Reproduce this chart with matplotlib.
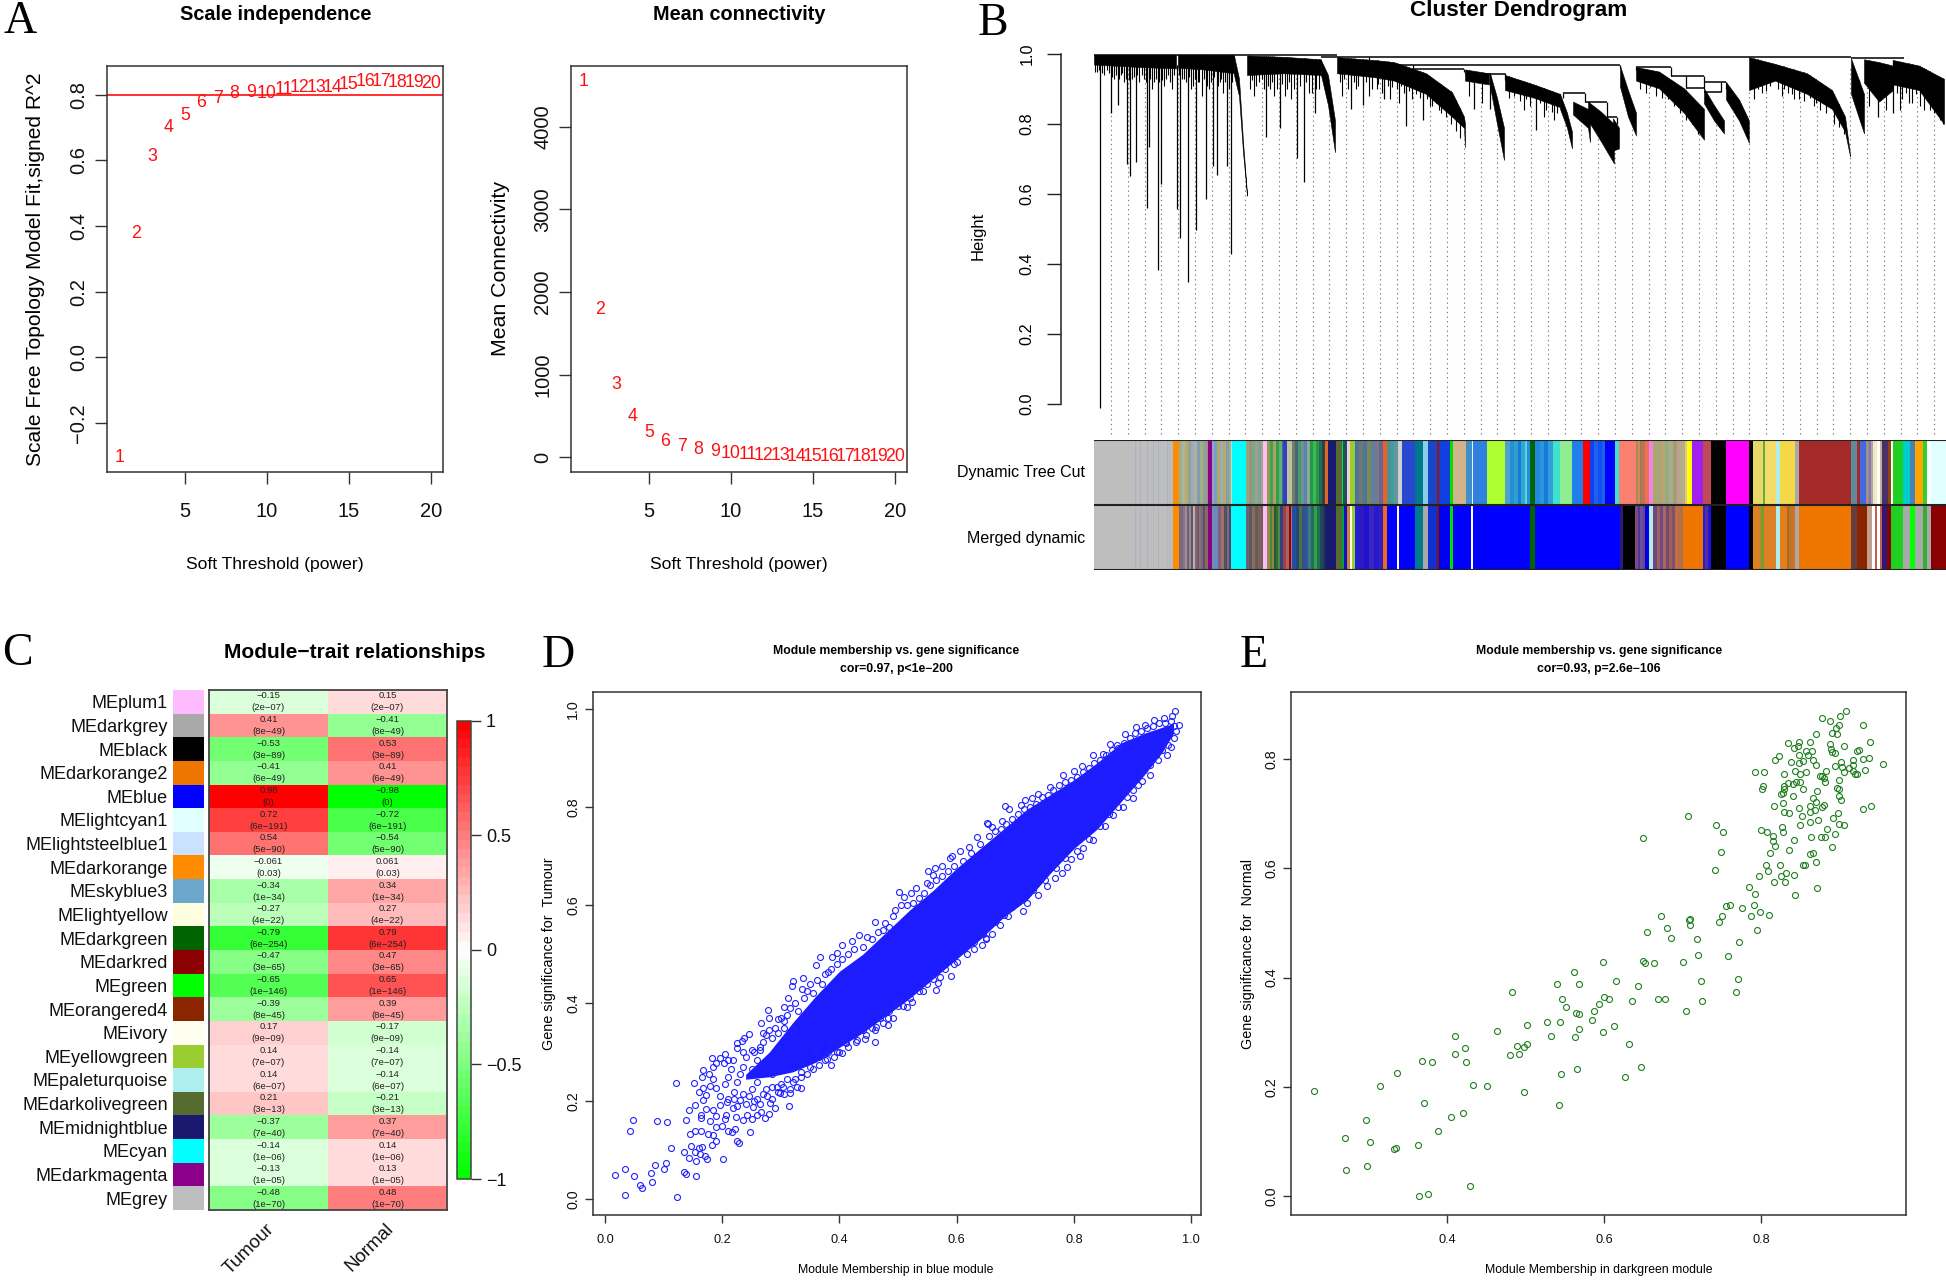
import matplotlib
matplotlib.use("Agg")
import matplotlib.pyplot as plt
from matplotlib.colors import LinearSegmentedColormap
import numpy as np

W, H = 1946, 1281
plt.rcParams['font.family'] = ['Liberation Sans', 'DejaVu Sans']
SERIF = ['Liberation Serif', 'DejaVu Serif']
DARK = '#333333'

# panel A
POWERS = list(range(1, 21))
SCALE_FIT = [-0.306, 0.378, 0.611, 0.701, 0.736, 0.775, 0.789, 0.805, 0.806, 0.803,
             0.816, 0.823, 0.821, 0.823, 0.830, 0.839, 0.841, 0.836, 0.838, 0.833]
MEAN_K = [4549, 1785, 879, 487, 296, 191, 128, 87, 64, 41,
          27, 18, 14, 9, 9, 5, 5, 4, 4, 3]

# panel B, x axis is leaf rank along the tree
BRANCH_RANKS = [
    [0, 46, 82], [84, 110, 140], [140, 145, 149, 153], [153, 190, 227], [227, 234, 241],
    [243, 280, 300, 332, 358, 370, 371], [371, 395], [396, 403, 410], [411, 440, 466],
    [466, 473, 478], [479, 494, 496], [494, 507, 520], [519, 525], [526, 534, 542],
    [542, 565, 590, 610], [610, 620, 630], [632, 645, 655],
    [655, 681, 713, 738, 751, 756], [757, 770], [770, 785, 799], [799, 825, 850],
]
BRANCH_TOPS = [
    [0.998, 0.998, 0.998], [0.998, 0.998, 0.997], [0.996, 0.93, 0.75, 0.60], [0.996, 0.992, 0.985],
    [0.983, 0.94, 0.81], [0.991, 0.983, 0.977, 0.945, 0.891, 0.821, 0.800], [0.956, 0.945],
    [0.945, 0.875, 0.789], [0.94, 0.913, 0.886], [0.886, 0.832, 0.778], [0.864, 0.843, 0.80],
    [0.864, 0.835, 0.80], [0.816, 0.789], [0.967, 0.897, 0.832], [0.963, 0.95, 0.902, 0.843],
    [0.902, 0.854, 0.81], [0.92, 0.87, 0.81], [0.991, 0.972, 0.945, 0.897, 0.821, 0.714],
    [0.988, 0.886], [0.985, 0.977, 0.967], [0.983, 0.967, 0.929],
]
BRANCH_BOTTOMS = [
    [0.970, 0.963, 0.959], [0.961, 0.956, 0.945], [0.94, 0.88, 0.72, 0.595], [0.94, 0.945, 0.94],
    [0.94, 0.854, 0.719], [0.945, 0.934, 0.924, 0.886, 0.821, 0.789, 0.733], [0.924, 0.913],
    [0.907, 0.80, 0.697], [0.897, 0.875, 0.848], [0.843, 0.789, 0.73], [0.827, 0.789, 0.748],
    [0.81, 0.75, 0.687], [0.724, 0.73], [0.907, 0.821, 0.767], [0.924, 0.902, 0.832, 0.755],
    [0.859, 0.81, 0.773], [0.87, 0.81, 0.746], [0.897, 0.924, 0.886, 0.843, 0.778, 0.708],
    [0.886, 0.773], [0.918, 0.864, 0.897], [0.913, 0.897, 0.80],
]
SPIKE_RANKS = [6.3, 17, 24, 33, 36, 42, 53, 55, 63.5, 67, 83, 86, 94, 102, 112, 119, 122.5, 133, 137,
               172, 186, 203, 210, 221, 257, 269, 290, 312, 329, 380, 396, 442, 765, 784, 799]
SPIKE_LOWS = [-0.013, 0.832, 0.854, 0.684, 0.651, 0.69, 0.56, 0.735, 0.382, 0.628, 0.558, 0.474, 0.348,
              0.498, 0.584, 0.681, 0.654, 0.681, 0.428, 0.762, 0.789, 0.703, 0.633, 0.832, 0.843, 0.854,
              0.87, 0.794, 0.81, 0.843, 0.843, 0.784, 0.84, 0.82, 0.83]
FRINGE_LEFT_RANKS = [1, 3, 5, 8, 10, 13, 15, 18, 20, 22, 25, 27, 28, 30, 32, 35, 38, 40, 43, 45, 48, 50, 52, 56, 58,
                     60, 62, 65, 68, 70, 72, 74, 76, 78, 80, 85, 88, 90, 92, 95, 97, 99, 101, 104, 105, 108, 110,
                     113, 115, 117, 120, 124, 126, 127, 129, 131, 135, 138]
FRINGE_LEFT_LOWS = [0.95, 0.95, 0.955, 0.945, 0.94, 0.955, 0.945, 0.935, 0.93, 0.94, 0.93, 0.94, 0.945, 0.92, 0.93,
                    0.925, 0.93, 0.935, 0.94, 0.92, 0.94, 0.93, 0.92, 0.93, 0.90, 0.92, 0.93, 0.92, 0.925, 0.91,
                    0.93, 0.94, 0.92, 0.90, 0.94, 0.94, 0.93, 0.93, 0.92, 0.935, 0.90, 0.91, 0.93, 0.92, 0.92,
                    0.88, 0.93, 0.91, 0.90, 0.92, 0.935, 0.91, 0.92, 0.93, 0.89, 0.92, 0.90, 0.92]
FRINGE_MID_RANKS = [156, 158, 160, 162, 165, 168, 170, 174, 176, 178, 180, 183, 188, 191, 193, 195, 197, 200, 206,
                    212, 215, 218, 222, 225, 246, 248, 250, 254, 260, 262, 264, 272, 275, 278, 283, 284, 288, 294,
                    296, 298, 303, 305, 307, 310, 315, 318, 322, 326, 333, 336, 338, 342, 345, 347, 352, 357, 362, 366]
FRINGE_MID_LOWS = [0.90, 0.925, 0.88, 0.91, 0.92, 0.93, 0.90, 0.91, 0.90, 0.92, 0.88, 0.90, 0.915, 0.88, 0.90, 0.92,
                   0.87, 0.90, 0.91, 0.92, 0.89, 0.89, 0.90, 0.90, 0.92, 0.88, 0.93, 0.90, 0.92, 0.90, 0.91, 0.92,
                   0.88, 0.90, 0.90, 0.915, 0.89, 0.91, 0.87, 0.905, 0.90, 0.86, 0.91, 0.89, 0.895, 0.87, 0.885,
                   0.875, 0.87, 0.85, 0.85, 0.86, 0.84, 0.83, 0.82, 0.80, 0.78, 0.76]
FRINGE_RIGHT_RANKS = [375, 388, 415, 420, 426, 430, 432, 436, 446, 450, 452, 458, 460, 463, 546, 552, 556, 562, 568,
                      574, 580, 586, 592, 598, 604, 660, 664, 668, 672, 676, 684, 688, 690, 694, 698, 700, 705, 710,
                      716, 720, 722, 726, 732, 740, 745, 750, 775, 792, 803, 806, 808, 812, 815, 818, 822, 826, 830,
                      832, 836, 840, 842, 846, 849]
FRINGE_RIGHT_LOWS = [0.88, 0.86, 0.875, 0.88, 0.865, 0.84, 0.87, 0.85, 0.86, 0.82, 0.84, 0.835, 0.81, 0.83, 0.90, 0.89,
                     0.905, 0.88, 0.875, 0.87, 0.85, 0.83, 0.81, 0.80, 0.77, 0.87, 0.90, 0.89, 0.895, 0.91, 0.90, 0.88,
                     0.90, 0.89, 0.885, 0.87, 0.87, 0.865, 0.875, 0.85, 0.86, 0.84, 0.83, 0.80, 0.79, 0.77, 0.85, 0.84,
                     0.89, 0.84, 0.87, 0.89, 0.86, 0.86, 0.885, 0.85, 0.84, 0.875, 0.84, 0.83, 0.86, 0.81, 0.80]
LINK_LEFTS = [0, 227, 656, 757, 275, 319, 371, 469, 491, 513, 542, 577, 610, 592, 610]
LINK_RIGHTS = [243, 656, 757, 810, 526, 370, 411, 491, 513, 523, 577, 610, 632, 610, 627]
LINK_HEIGHTS = [0.997, 0.991, 0.991, 0.989, 0.970, 0.958, 0.942, 0.888, 0.864, 0.819,
                0.963, 0.938, 0.921, 0.902, 0.891]
DROP_RANKS = [275, 526, 319, 370, 411, 469, 491, 513, 523, 577, 610, 632, 592, 627, 542]
DROP_TOPS = [0.991, 0.970, 0.970, 0.958, 0.945, 0.888, 0.888, 0.864, 0.819, 0.963, 0.938, 0.921, 0.938, 0.921, 0.963]
DROP_BOTTOMS = [0.970, 0.96, 0.958, 0.95, 0.925, 0.875, 0.864, 0.82, 0.80, 0.938, 0.90, 0.90, 0.902, 0.891, 0.955]

TREE_CUT_ENDS = [41, 42, 46, 47, 53, 54, 59, 60, 64, 65, 73, 74, 79, 85,
                 88, 91, 94, 97, 100, 103, 106, 109, 112, 114, 118,
                 120, 123, 126, 129, 132, 135, 137, 138, 152,
                 155, 158, 161, 164, 167, 169, 173,
                 176, 179, 182, 185, 188, 189, 193, 198,
                 201, 204, 207, 210, 213, 216, 219, 222, 225, 228, 231, 234, 242, 248, 249, 253, 256, 261,
                 265, 269, 273, 277, 281, 285, 289, 293, 297, 300, 304, 308, 321, 329, 334, 343, 345, 356, 359,
                 372, 378, 379, 393, 411, 416,
                 420, 424, 427, 431, 433, 436, 441, 446, 450, 454, 459, 466, 478, 489, 496,
                 500, 504, 508, 511, 521, 525, 542, 544, 546, 548, 551, 555, 559,
                 563, 567, 571, 575, 579, 583, 587, 591, 593, 598, 609, 617, 632, 655, 659,
                 669, 671, 682, 686, 701, 705, 757, 763, 766, 772, 775, 777, 779, 783, 786, 788,
                 794, 797, 799, 809, 816, 821, 829, 833, 837, 852]
TREE_CUT_COLORS = ['#bebebe', '#aab4c4', '#bebebe', '#aab4c4', '#bebebe', '#aab4c4', '#bebebe', '#aab4c4',
                   '#bebebe', '#aab4c4', '#bebebe', '#aab4c4', '#b8bcc0', '#ff8c00',
                   '#9ab08a', '#a8b8a0', '#c0a868', '#8aa890', '#9fa8c0', '#b0b0a0', '#7f9fb0', '#a0b080', '#90a0a8', '#a09080', '#8b008b',
                   '#a0a0c0', '#6fa0d0', '#b0a860', '#8fb0c0', '#c0a860', '#80a0b0', '#a0b080', '#b0e0e0', '#00ffff',
                   '#90a880', '#a09080', '#70b080', '#a0a090', '#80a0a0', '#a0a880', '#ffbbff',
                   '#90a040', '#40a060', '#b0a060', '#30a050', '#60b070', '#407090', '#3040c0', '#c0c0a0',
                   '#708060', '#506080', '#40a060', '#7090a0', '#6080b0', '#80b090', '#309050', '#30c050', '#309050', '#207050', '#304050',
                   '#e06820', '#191970', '#556b2f', '#00e050', '#205060', '#f0d0d0', '#9acd32',
                   '#5070a0', '#707870', '#4878a0', '#808850', '#5880a8', '#807880', '#6068a0', '#f06020',
                   '#509090', '#40a0a0', '#6098a0', '#d0d0d0', '#2848d0', '#007a8a', '#87ceeb', '#1848c8', '#a01010', '#1040e0', '#00e000',
                   '#d2b48c', '#4090c8', '#e8f4ff', '#3080e0', '#adff2f', '#50a0d0',
                   '#2090d8', '#30a0c8', '#1878e0', '#30a8d0', '#60d0e0', '#2090e0', '#006400',
                   '#2088e0', '#2898d8', '#1878e0', '#30a0d8', '#40e0d0', '#90ee90', '#1e80e8', '#ff0000',
                   '#1040f0', '#2060f0', '#1050f0', '#2060e8', '#0000ff', '#40e0d0', '#fa8072',
                   '#a09050', '#e08070', '#a08040', '#c07060', '#f07050', '#ee82ee',
                   '#b0a860', '#a0a880', '#c0a070', '#90b080', '#b0a890', '#a0a070', '#c0a090', '#b0b080', '#e8c0a0',
                   '#ffff00', '#a020f0', '#c04858', '#000000', '#ff00ff', '#000000',
                   '#e8d868', '#60b040', '#f5dc68', '#afeeee', '#f5d848', '#a9a9a9', '#a52a2a', '#5f8a9a', '#a52a2a', '#4169e1',
                   '#a09080', '#8870c0', '#b0a890', '#f0e8d0', '#fffff0', '#c0b0a0',
                   '#4a2f6a', '#8b4513', '#ffffff', '#20d020', '#00cdcd', '#4682b4', '#ffa500', '#30d030', '#ffffff', '#e0ffff']
MERGED_ENDS = [41, 42, 46, 47, 53, 54, 59, 60, 64, 65, 73, 74, 79, 85,
               87, 89, 91, 93, 95, 97, 99, 101, 103, 105, 107, 109, 111, 114, 118,
               120, 124, 127, 130, 133, 135, 137, 152,
               155, 158, 161, 164, 167, 169, 173,
               176, 178, 180, 182, 184, 186, 189, 192, 195, 197, 198,
               202, 205, 208, 211, 214, 217, 220, 223, 226, 229, 231, 242, 248, 250, 253, 256, 258, 261,
               265, 270, 275, 280, 285, 289, 293, 303, 305, 321, 329, 334, 343, 345, 356, 359, 377, 379,
               436, 441, 526, 529, 541, 544, 546, 549, 551, 555, 559,
               563, 566, 569, 572, 575, 578, 581, 585, 589, 609, 611, 614, 617, 632, 655, 659,
               664, 667, 670, 675, 682, 686, 693, 695, 697, 701, 705, 757, 763, 773, 778, 781, 783, 786, 788,
               793, 797, 809, 816, 821, 829, 833, 837, 852]
MERGED_COLORS = ['#bebebe', '#aab4c4', '#bebebe', '#aab4c4', '#bebebe', '#b4b0c0', '#bebebe', '#c0b4b0',
                 '#bebebe', '#b4b0c0', '#bebebe', '#b4b4c0', '#b8bcc0', '#ff8c00',
                 '#806880', '#707070', '#8a70a0', '#a09080', '#706080', '#908890', '#605870', '#c0b0a0', '#806870', '#705878', '#907060', '#706890', '#605060', '#8a6a60', '#8b008b',
                 '#7090b0', '#6a8ac0', '#806080', '#a07060', '#505068', '#806880', '#504860', '#00ffff',
                 '#706070', '#605860', '#807060', '#705850', '#706860', '#805850', '#ffbbff',
                 '#90903f', '#508050', '#a08040', '#206030', '#307030', '#508850', '#304080', '#a04040', '#b06060', '#800020', '#c07050',
                 '#2050a0', '#204880', '#507040', '#305090', '#305890', '#407890', '#207050', '#30a050', '#207050', '#204860', '#203850',
                 '#191970', '#556b2f', '#00a040', '#1010c0', '#d08030', '#fffff0', '#9acd32',
                 '#2020d8', '#3018c0', '#2010d0', '#3828c0', '#2818d0', '#3020c0', '#f06820', '#0000ff', '#ffffff', '#0000ff',
                 '#007a8a', '#a9a9a9', '#1030d0', '#8b1000', '#0000f0', '#00e000', '#0000ff', '#ffffff',
                 '#0000ff', '#006400', '#0000ff', '#301878', '#000000', '#7a4a80', '#503890', '#6a50a0', '#704080', '#0000e0', '#afeeee',
                 '#704880', '#a06060', '#704890', '#b06850', '#704880', '#a06050', '#805070', '#c07040', '#b07050', '#ee7600',
                 '#2020d0', '#5030a0', '#2010e0', '#000000', '#0000ff', '#000000',
                 '#dd8020', '#d08028', '#70a030', '#e08020', '#dd8028', '#afeeee', '#e08020', '#c86010', '#a08030', '#d07020', '#a9a9a9',
                 '#ee7600', '#604040', '#8b2500', '#c0a090', '#ffffff', '#c06050', '#ffffff', '#c06050',
                 '#301878', '#8b0000', '#20d020', '#a9a9a9', '#00ff00', '#a9a9a9', '#30b030', '#a9a9a9', '#8b0000']

# panel C
MODULES = ['MEplum1', 'MEdarkgrey', 'MEblack', 'MEdarkorange2', 'MEblue', 'MElightcyan1', 'MElightsteelblue1',
           'MEdarkorange', 'MEskyblue3', 'MElightyellow', 'MEdarkgreen', 'MEdarkred', 'MEgreen', 'MEorangered4',
           'MEivory', 'MEyellowgreen', 'MEpaleturquoise', 'MEdarkolivegreen', 'MEmidnightblue', 'MEcyan',
           'MEdarkmagenta', 'MEgrey']
MODULE_COLORS = ['#ffbbff', '#a9a9a9', '#000000', '#ee7600', '#0000ff', '#e0ffff', '#cae1ff', '#ff8c00', '#6ca6cd',
                 '#ffffe0', '#006400', '#8b0000', '#00ff00', '#8b2500', '#fffff0', '#9acd32', '#afeeee', '#556b2f',
                 '#191970', '#00ffff', '#8b008b', '#bebebe']
TRAITS = ['Tumour', 'Normal']
COR_TUMOUR = [-0.15, 0.41, -0.53, -0.41, 0.98, 0.72, 0.54, -0.061, -0.34, -0.27, -0.79,
              -0.47, -0.65, -0.39, 0.17, 0.14, 0.14, 0.21, -0.37, -0.14, -0.13, -0.48]
COR_NORMAL = [0.15, -0.41, 0.53, 0.41, -0.98, -0.72, -0.54, 0.061, 0.34, 0.27, 0.79,
              0.47, 0.65, 0.39, -0.17, -0.14, -0.14, -0.21, 0.37, 0.14, 0.13, 0.48]
PVALUES = ['2e-07', '8e-49', '3e-89', '6e-49', '0', '6e-191', '5e-90', '0.03', '1e-34', '4e-22', '6e-254',
           '3e-65', '1e-146', '8e-45', '9e-09', '7e-07', '6e-07', '3e-13', '7e-40', '1e-06', '1e-05', '1e-70']

# panel D, the dense middle of the cloud is kept as an outline
D_CORE_MM = [0.24, 0.28, 0.32, 0.36, 0.40, 0.44, 0.48, 0.52, 0.56, 0.60, 0.64, 0.68, 0.72, 0.76, 0.80, 0.84, 0.88, 0.92, 0.95, 0.97]
D_CORE_LOW = [0.245, 0.25, 0.26, 0.28, 0.31, 0.34, 0.375, 0.41, 0.45, 0.49, 0.53, 0.575, 0.61, 0.665, 0.715, 0.755, 0.81, 0.865, 0.91, 0.95]
D_CORE_HIGH = [0.255, 0.30, 0.36, 0.415, 0.465, 0.50, 0.545, 0.59, 0.63, 0.675, 0.715, 0.755, 0.795, 0.825, 0.855, 0.89, 0.93, 0.95, 0.962, 0.97]
D_TAIL = [(.017, .050), (.035, .063), (.035, .009), (.050, .047), (.059, .030), (.064, .023), (.042, .140), (.047, .161),
          (.078, .053), (.081, .035), (.086, .070), (.089, .159), (.101, .062), (.104, .075), (.106, .157), (.112, .104),
          (.123, .006), (.121, .237), (.134, .055), (.139, .051), (.156, .047), (.135, .096), (.144, .085), (.147, .110),
          (.138, .161), (.145, .134), (.153, .139), (.143, .182), (.154, .193), (.152, .237), (.155, .079), (.154, .097),
          (.161, .104), (.165, .106), (.162, .093), (.164, .139), (.171, .089), (.174, .082), (.201, .083), (.182, .112),
          (.190, .119), (.185, .131), (.176, .134), (.189, .148), (.200, .149), (.210, .139), (.217, .138), (.222, .144),
          (.225, .119), (.229, .116), (.247, .137), (.164, .172), (.164, .167), (.179, .160), (.190, .171), (.172, .185),
          (.185, .182), (.204, .165), (.207, .172), (.224, .169), (.235, .161), (.251, .165), (.260, .172), (.273, .167),
          (.280, .174), (.314, .191), (.290, .186), (.168, .203), (.160, .219), (.168, .227), (.173, .213), (.179, .232),
          (.165, .250), (.168, .264), (.178, .256), (.185, .246), (.190, .227), (.196, .193), (.183, .289), (.184, .269),
          (.190, .278), (.196, .289), (.205, .297), (.203, .278), (.210, .284), (.219, .284), (.226, .318), (.226, .308),
          (.233, .322), (.238, .329), (.246, .337), (.236, .301), (.250, .305), (.265, .305), (.267, .359), (.278, .386),
          (.280, .369), (.270, .339), (.296, .367), (.306, .392), (.306, .363), (.316, .216), (.327, .230), (.334, .227),
          (.299, .216), (.293, .230), (.282, .196), (.267, .179), (.242, .172), (.219, .186), (.208, .199), (.196, .210),
          (.230, .203), (.253, .189), (.276, .210), (.303, .229)]
D_FOOT = [(.205, .235), (.21, .25), (.215, .265), (.22, .22), (.225, .24), (.23, .255), (.235, .27), (.24, .29), (.22, .205),
          (.235, .215), (.245, .21), (.25, .225), (.255, .30), (.26, .285), (.265, .31), (.27, .32), (.275, .335), (.28, .345),
          (.285, .33), (.29, .35), (.295, .34), (.30, .37), (.305, .35), (.31, .375), (.315, .39), (.325, .40), (.33, .385),
          (.345, .425), (.26, .205), (.265, .195), (.275, .225), (.285, .205), (.295, .22), (.305, .215), (.315, .225),
          (.325, .245), (.335, .25), (.345, .255), (.355, .265), (.365, .275), (.375, .285), (.39, .29), (.40, .30), (.415, .31),
          (.43, .325), (.445, .335), (.46, .345), (.475, .36), (.25, .265), (.26, .24), (.27, .265), (.285, .255), (.30, .27),
          (.31, .245), (.32, .345), (.335, .28), (.35, .38), (.36, .30)]
D_UPPER_EDGE = [(.320, .446), (.319, .434), (.337, .451), (.312, .410), (.336, .429), (.360, .477), (.367, .494), (.361, .448),
                (.381, .464), (.388, .495), (.396, .502), (.404, .519), (.421, .526), (.433, .539), (.447, .534), (.460, .565),
                (.478, .564), (.492, .577), (.502, .626), (.510, .616), (.522, .624), (.531, .634), (.549, .645), (.551, .670),
                (.560, .661), (.563, .675), (.575, .680), (.592, .699), (.606, .711), (.621, .719), (.634, .739), (.653, .766),
                (.589, .695), (.652, .768), (.660, .758), (.678, .771), (.682, .801), (.689, .796), (.710, .804), (.717, .814),
                (.729, .818), (.738, .827), (.759, .841), (.781, .865), (.801, .873), (.814, .884), (.833, .905), (.849, .908),
                (.861, .928), (.873, .926), (.887, .948), (.906, .962), (.922, .966), (.936, .977), (.953, .981), (.967, .986),
                (.973, .996), (.979, .966), (.34, .41), (.35, .44), (.355, .42), (.37, .44), (.375, .46), (.385, .47), (.395, .48),
                (.405, .49), (.415, .50), (.425, .51), (.44, .515), (.455, .53), (.465, .545), (.475, .55), (.485, .555), (.495, .59),
                (.505, .60), (.515, .60), (.525, .605), (.535, .615), (.545, .625), (.555, .64), (.565, .65), (.575, .66), (.585, .67),
                (.595, .68), (.61, .69), (.625, .705), (.64, .725), (.655, .74), (.665, .75), (.675, .755), (.685, .765), (.695, .775),
                (.705, .785), (.715, .795), (.725, .80), (.735, .805), (.745, .82), (.755, .825), (.765, .835), (.775, .845), (.785, .85),
                (.795, .855), (.805, .86), (.815, .87), (.825, .88), (.835, .89), (.845, .895), (.855, .905), (.865, .915), (.875, .92),
                (.885, .93), (.895, .94), (.905, .95), (.915, .955), (.925, .96), (.935, .965), (.945, .97), (.955, .97), (.965, .975),
                (.97, .965), (.975, .955)]
D_LOWER_EDGE = [(.461, .320), (.429, .321), (.404, .299), (.386, .274), (.379, .286), (.463, .352), (.483, .356), (.492, .369),
                (.475, .386), (.515, .393), (.523, .403), (.543, .424), (.565, .427), (.569, .441), (.572, .454), (.590, .456),
                (.601, .483), (.617, .500), (.629, .510), (.643, .519), (.650, .530), (.500, .394), (.509, .394), (.483, .369),
                (.443, .326), (.412, .318), (.389, .318), (.966, .922), (.958, .906), (.944, .896), (.930, .865), (.916, .852),
                (.901, .819), (.884, .799), (.866, .783), (.853, .760), (.833, .733), (.816, .716), (.810, .699), (.795, .694),
                (.788, .678), (.779, .665), (.767, .655), (.754, .638), (.738, .621), (.720, .604), (.713, .587), (.688, .577),
                (.674, .560), (.660, .541), (.650, .532), (.97, .94), (.96, .925), (.95, .915), (.94, .905), (.93, .885), (.92, .875),
                (.91, .845), (.90, .835), (.89, .82), (.875, .80), (.86, .785), (.845, .76), (.825, .735), (.805, .71), (.785, .695),
                (.77, .675), (.75, .65), (.73, .63), (.71, .61), (.695, .595), (.68, .58), (.665, .565), (.645, .54), (.63, .525),
                (.61, .51), (.595, .48), (.58, .47), (.56, .45), (.55, .44), (.535, .425), (.52, .41), (.50, .405), (.485, .385),
                (.47, .37), (.455, .35), (.44, .345), (.425, .335), (.41, .32), (.395, .30), (.38, .30), (.365, .29), (.35, .27),
                (.335, .26), (.32, .24), (.30, .235), (.285, .23), (.27, .215), (.255, .20), (.24, .195), (.225, .19), (.21, .205)]

# panel E
E_LOWER = [(.230, .192), (.269, .106), (.271, .049), (.296, .140), (.297, .056), (.301, .099), (.314, .201), (.332, .087),
           (.335, .089), (.336, .226), (.363, .094), (.364, .001), (.375, .005), (.368, .247), (.370, .170), (.381, .245),
           (.388, .119), (.405, .145), (.410, .260), (.410, .293), (.420, .153), (.423, .272), (.424, .246), (.429, .019),
           (.433, .204), (.450, .202), (.463, .302), (.480, .259), (.482, .373), (.489, .275), (.492, .261), (.498, .273),
           (.498, .191), (.502, .278), (.501, .313), (.527, .319), (.532, .293), (.540, .389), (.542, .167), (.544, .318),
           (.546, .361), (.545, .224), (.552, .347), (.563, .292), (.561, .411), (.564, .336), (.568, .333), (.566, .233),
           (.568, .388), (.568, .306), (.584, .323), (.587, .339), (.594, .351), (.598, .300), (.598, .428), (.600, .365),
           (.606, .361), (.612, .311), (.615, .394), (.626, .219), (.632, .279), (.635, .357), (.643, .384), (.647, .237),
           (.649, .430), (.652, .427), (.650, .655), (.655, .483), (.663, .427), (.669, .360), (.673, .512), (.678, .361),
           (.680, .490), (.685, .473), (.700, .428), (.705, .338), (.707, .696), (.708, .505), (.710, .507), (.709, .496),
           (.719, .471), (.720, .441), (.724, .393), (.725, .357), (.743, .679), (.742, .597), (.746, .502), (.750, .512),
           (.749, .629), (.751, .666), (.756, .531), (.758, .439), (.760, .533), (.768, .374), (.771, .397), (.772, .465),
           (.776, .527), (.785, .566), (.787, .513), (.791, .533)]
E_UPPER = [(.793, .553), (.795, .487), (.793, .775), (.797, .586), (.799, .520), (.800, .669), (.801, .745), (.803, .751),
           (.804, .775), (.808, .666), (.807, .605), (.809, .594), (.810, .515), (.811, .628), (.815, .659), (.816, .649),
           (.817, .713), (.817, .574), (.818, .641), (.818, .798), (.823, .805), (.824, .605), (.825, .586), (.827, .675),
           (.826, .735), (.828, .666), (.828, .738), (.828, .720), (.829, .745), (.830, .772), (.830, .751), (.830, .703),
           (.832, .592), (.831, .575), (.834, .828), (.835, .755), (.836, .701), (.836, .633), (.838, .794), (.841, .753),
           (.841, .732), (.842, .651), (.842, .820), (.842, .587), (.843, .551), (.843, .778), (.845, .757), (.847, .824),
           (.848, .806), (.848, .792), (.848, .710), (.849, .830), (.850, .678), (.850, .772), (.850, .758), (.852, .695),
           (.853, .745), (.853, .795), (.853, .606), (.856, .605), (.857, .815), (.857, .776), (.860, .806), (.862, .625),
           (.863, .830), (.863, .713), (.863, .702), (.863, .685), (.864, .657), (.865, .815), (.866, .798), (.866, .729),
           (.867, .627), (.870, .788), (.869, .707), (.870, .721), (.870, .845), (.870, .612), (.872, .564), (.872, .741),
           (.873, .688), (.875, .769), (.877, .657), (.878, .769), (.878, .874), (.878, .712), (.880, .716), (.881, .764),
           (.882, .757), (.882, .657), (.883, .778), (.884, .672), (.888, .827), (.889, .817), (.890, .812), (.888, .869),
           (.890, .847), (.890, .638), (.892, .691), (.894, .810), (.895, .786), (.895, .663), (.896, .857), (.897, .845),
           (.897, .746), (.899, .761), (.899, .731), (.898, .701), (.899, .680), (.900, .861), (.901, .878), (.900, .745),
           (.902, .724), (.902, .794), (.904, .784), (.906, .776), (.906, .678), (.906, .824), (.909, .887), (.912, .783),
           (.917, .788), (.917, .798), (.918, .778), (.920, .773), (.922, .773), (.923, .814), (.925, .816), (.930, .861),
           (.930, .708), (.930, .799), (.933, .779), (.938, .802), (.939, .831), (.940, .713), (.956, .791)]


def px_axes(x0, y0, x1, y1):
    return fig.add_axes([x0 / W, 1 - y1 / H, (x1 - x0) / W, (y1 - y0) / H])


def px_text(x, y, s, **kw):
    kw.setdefault('ha', 'center')
    kw.setdefault('va', 'center')
    return fig.text(x / W, 1 - y / H, s, **kw)


def style_box(ax, tick_len, pad_x, pad_y, size_x, size_y):
    for sp in ax.spines.values():
        sp.set_color(DARK)
        sp.set_linewidth(1.1)
    ax.tick_params(axis='x', length=tick_len, width=1.0, color=DARK, pad=pad_x, labelsize=size_x, labelcolor='#111111')
    ax.tick_params(axis='y', length=tick_len, width=1.0, color=DARK, pad=pad_y, labelsize=size_y, labelcolor='#111111')


def sft_panel(box, values, ylim, yticks, yticklabels, hline=None):
    ax = px_axes(*box)
    if hline is not None:
        ax.axhline(hline, color='#ff2020', lw=1.3)
    for p, v in zip(POWERS, values):
        ax.text(p, v, str(p), color='#ff1010', ha='center', va='center', fontsize=12.8)
    ax.set_xlim(0.23, 20.75)
    ax.set_ylim(*ylim)
    ax.set_xticks([5, 10, 15, 20])
    ax.set_yticks(yticks, yticklabels, rotation=90, va='center')
    style_box(ax, 8.5, 13, 5, 14.5, 14.5)
    return ax


def branch_edge(rank, edges, default):
    # height of the branch outline above a leaf rank
    value = default
    for ranks, edge in zip(BRANCH_RANKS, edges):
        if ranks[0] <= rank <= ranks[-1]:
            value = np.interp(rank, ranks, edge)
    return value


def strip_row(ax, ends, colors, bottom):
    lefts = [0] + list(ends[:-1])
    widths = np.array(ends) - np.array(lefts)
    ax.bar(lefts, 1, widths, bottom=bottom, align='edge', color=colors, linewidth=0)


def scatter_panel(box, xs, ys, color, xlim, ylim, xticks, yticks):
    ax = px_axes(*box)
    ax.plot(xs, ys, 'o', mfc='none', mec=color, ms=4.3, mew=0.8, ls='none')
    ax.set_xlim(*xlim)
    ax.set_ylim(*ylim)
    ax.set_xticks(xticks, [f"{t:.1f}" for t in xticks])
    ax.set_yticks(yticks, [f"{t:.1f}" for t in yticks], rotation=90, va='center')
    style_box(ax, 6, 8, 3, 9.2, 10.3)
    return ax


fig = plt.figure(figsize=(W / 100, H / 100), dpi=100)

# panel A
sft_panel((107, 65.8, 443, 471.8), SCALE_FIT, (-0.349, 0.888),
          [-0.2, 0.0, 0.2, 0.4, 0.6, 0.8], ['\u22120.2', '0.0', '0.2', '0.4', '0.6', '0.8'], hline=0.8)
sft_panel((571, 65.8, 907, 471.8), MEAN_K, (-178, 4738),
          [0, 1000, 2000, 3000, 4000], ['0', '1000', '2000', '3000', '4000'])
px_text(20, 22, 'A', family=SERIF, fontsize=33)
px_text(275.5, 15, 'Scale independence', fontweight='bold', fontsize=14.3)
px_text(739, 15, 'Mean connectivity', fontweight='bold', fontsize=14.3)
px_text(275, 564, 'Soft Threshold (power)', fontsize=12.6)
px_text(739, 564, 'Soft Threshold (power)', fontsize=12.6)
px_text(36, 269, 'Scale Free Topology Model Fit,signed R^2', rotation=90, fontsize=15.1)
px_text(500, 268, 'Mean Connectivity', rotation=90, fontsize=15.3)

# panel B
ax = px_axes(1061, 50, 1946, 436)
ax.set_xlim(-33, 852)
ax.set_ylim(-0.0928, 1.0116)
guide_ranks = np.arange(17, 851, 16.8)
guide_tops = [branch_edge(g, BRANCH_BOTTOMS, 0.96) for g in guide_ranks]
ax.vlines(guide_ranks, -0.088, guide_tops, color='#777777', lw=0.8, linestyles=(0, (1.2, 3)))
for ranks, tops, bottoms in zip(BRANCH_RANKS, BRANCH_TOPS, BRANCH_BOTTOMS):
    ax.fill_between(ranks, bottoms, tops, color='black', lw=0.4)
spike_tops = [branch_edge(r, BRANCH_TOPS, 0.97) for r in SPIKE_RANKS]
ax.vlines(SPIKE_RANKS, SPIKE_LOWS, spike_tops, color='black', lw=0.9)
for ranks, lows in ((FRINGE_LEFT_RANKS, FRINGE_LEFT_LOWS), (FRINGE_MID_RANKS, FRINGE_MID_LOWS),
                    (FRINGE_RIGHT_RANKS, FRINGE_RIGHT_LOWS)):
    tops = [branch_edge(r, BRANCH_TOPS, 0.97) for r in ranks]
    ax.vlines(ranks, lows, tops, color='black', lw=0.8)
ax.hlines(LINK_HEIGHTS, LINK_LEFTS, LINK_RIGHTS, color='black', lw=1.1)
ax.vlines(DROP_RANKS, DROP_BOTTOMS, DROP_TOPS, color='black', lw=0.9)
for name in ['top', 'right', 'bottom']:
    ax.spines[name].set_visible(False)
ax.spines['left'].set_bounds(0, 1)
ax.spines['left'].set_color('#222222')
ax.spines['left'].set_linewidth(1.1)
ax.patch.set_alpha(0)
ax.set_xticks([])
ax.set_yticks([0, 0.2, 0.4, 0.6, 0.8, 1.0], ['0.0', '0.2', '0.4', '0.6', '0.8', '1.0'], rotation=90, va='center')
ax.tick_params(axis='y', length=10, width=1.0, color='#222222', pad=9, labelsize=11.7)

strips = px_axes(1094, 440, 1946, 570)
strip_row(strips, TREE_CUT_ENDS, TREE_CUT_COLORS, 1)
strip_row(strips, MERGED_ENDS, MERGED_COLORS, 0)
strips.hlines([0, 1, 2], 0, 852, color='#222222', lw=1.5)
strips.set_xlim(0, 852)
strips.set_ylim(0, 2)
strips.axis('off')

px_text(993, 24, 'B', family=SERIF, fontsize=33)
px_text(1518.6, 10.5, 'Cluster Dendrogram', fontweight='bold', fontsize=16.2)
px_text(978.6, 236, 'Height', rotation=90, fontsize=12)
px_text(1085, 472.5, 'Dynamic Tree Cut', ha='right', fontsize=11.5)
px_text(1085, 538, 'Merged dynamic', ha='right', fontsize=11.5)

# panel C
swatch = px_axes(173, 690, 204.5, 1210)
swatch.barh(range(len(MODULES)), 1, height=1, left=0, color=MODULE_COLORS, linewidth=0)
swatch.set_xlim(0, 1)
swatch.set_ylim(len(MODULES) - 0.5, -0.5)
swatch.set_xticks([])
swatch.set_yticks(range(len(MODULES)), MODULES)
swatch.tick_params(axis='y', length=0, pad=3.6, labelsize=13, labelcolor='#111111')
for sp in swatch.spines.values():
    sp.set_visible(False)

green_white_red = LinearSegmentedColormap.from_list('gwr', ['#00ff00', '#ffffff', '#ff0000'], N=50)
cor = np.array([COR_TUMOUR, COR_NORMAL]).T
heat = px_axes(209, 690, 447, 1210)
mesh = heat.pcolormesh(np.arange(3), np.arange(len(MODULES) + 1), cor, cmap=green_white_red, vmin=-1, vmax=1)
heat.set_ylim(len(MODULES), 0)
heat.set_xticks([0.5, 1.5], [])
heat.set_yticks([])
heat.tick_params(axis='x', length=0)
for sp in heat.spines.values():
    sp.set_color('#444444')
    sp.set_linewidth(1.3)
for i, (a, b, p) in enumerate(zip(COR_TUMOUR, COR_NORMAL, PVALUES)):
    ptext = '(' + p.replace('-', '\u2212') + ')'
    for j, v in enumerate((a, b)):
        vtext = f"{v:g}".replace('-', '\u2212')
        heat.text(j + 0.5, i + 0.25, vtext, ha='center', va='center', fontsize=6.8, color='#222222')
        heat.text(j + 0.5, i + 0.76, ptext, ha='center', va='center', fontsize=6.8, color='#222222')
for j, trait in enumerate(TRAITS):
    heat.annotate(trait, (j + 0.5, len(MODULES)), xytext=(-2, -7.5), textcoords='offset points',
                  rotation=45, rotation_mode='anchor', ha='right', va='top', fontsize=13.6, color='#111111')

cax = px_axes(457, 720.7, 471, 1179)
cb = fig.colorbar(mesh, cax=cax)
cb.set_ticks([-1, -0.5, 0, 0.5, 1], labels=['\u22121', '\u22120.5', '0', '0.5', '1'])
cb.outline.set_edgecolor('#444444')
cb.outline.set_linewidth(1.1)
cax.tick_params(length=7.2, width=1.0, color=DARK, pad=3.5, labelsize=13, labelcolor='#111111')

px_text(17, 654, 'C', family=SERIF, fontsize=33)
px_text(355, 653, 'Module\u2212trait relationships', fontweight='bold', fontsize=15)

# panel D
d_points = np.array(D_TAIL + D_FOOT + D_UPPER_EDGE + D_LOWER_EDGE)
ax = scatter_panel((592.5, 692, 1200.5, 1215), d_points[:, 0], d_points[:, 1], '#2222ff',
                   (-0.0213, 1.016), (-0.0316, 1.034), [0.0, 0.2, 0.4, 0.6, 0.8, 1.0], [0.0, 0.2, 0.4, 0.6, 0.8, 1.0])
ax.fill_between(D_CORE_MM, D_CORE_LOW, D_CORE_HIGH, color='#1c1cff', lw=0, zorder=1)
px_text(558, 656, 'D', family=SERIF, fontsize=33)
px_text(896, 651, 'Module membership vs. gene significance', fontweight='bold', fontsize=8.8)
px_text(896, 669.4, 'cor=0.97, p<1e\u2212200', fontweight='bold', fontsize=8.8)
px_text(896, 1270, 'Module Membership in blue module', fontsize=8.8)
px_text(548.7, 953.8, 'Gene significance for  Tumour', rotation=90, fontsize=10.4)

# panel E
e_points = np.array(E_LOWER + E_UPPER)
scatter_panel((1291.2, 692, 1906, 1215), e_points[:, 0], e_points[:, 1], '#1f7f1f',
              (0.2009, 0.985), (-0.034, 0.922), [0.4, 0.6, 0.8], [0.0, 0.2, 0.4, 0.6, 0.8])
px_text(1254, 656, 'E', family=SERIF, fontsize=33)
px_text(1599, 651, 'Module membership vs. gene significance', fontweight='bold', fontsize=8.8)
px_text(1599, 669.4, 'cor=0.93, p=2.6e\u2212106', fontweight='bold', fontsize=8.8)
px_text(1599, 1270, 'Module Membership in darkgreen module', fontsize=8.8)
px_text(1248, 953.8, 'Gene significance for  Normal', rotation=90, fontsize=10.4)

fig.savefig('out.png', dpi=100)
